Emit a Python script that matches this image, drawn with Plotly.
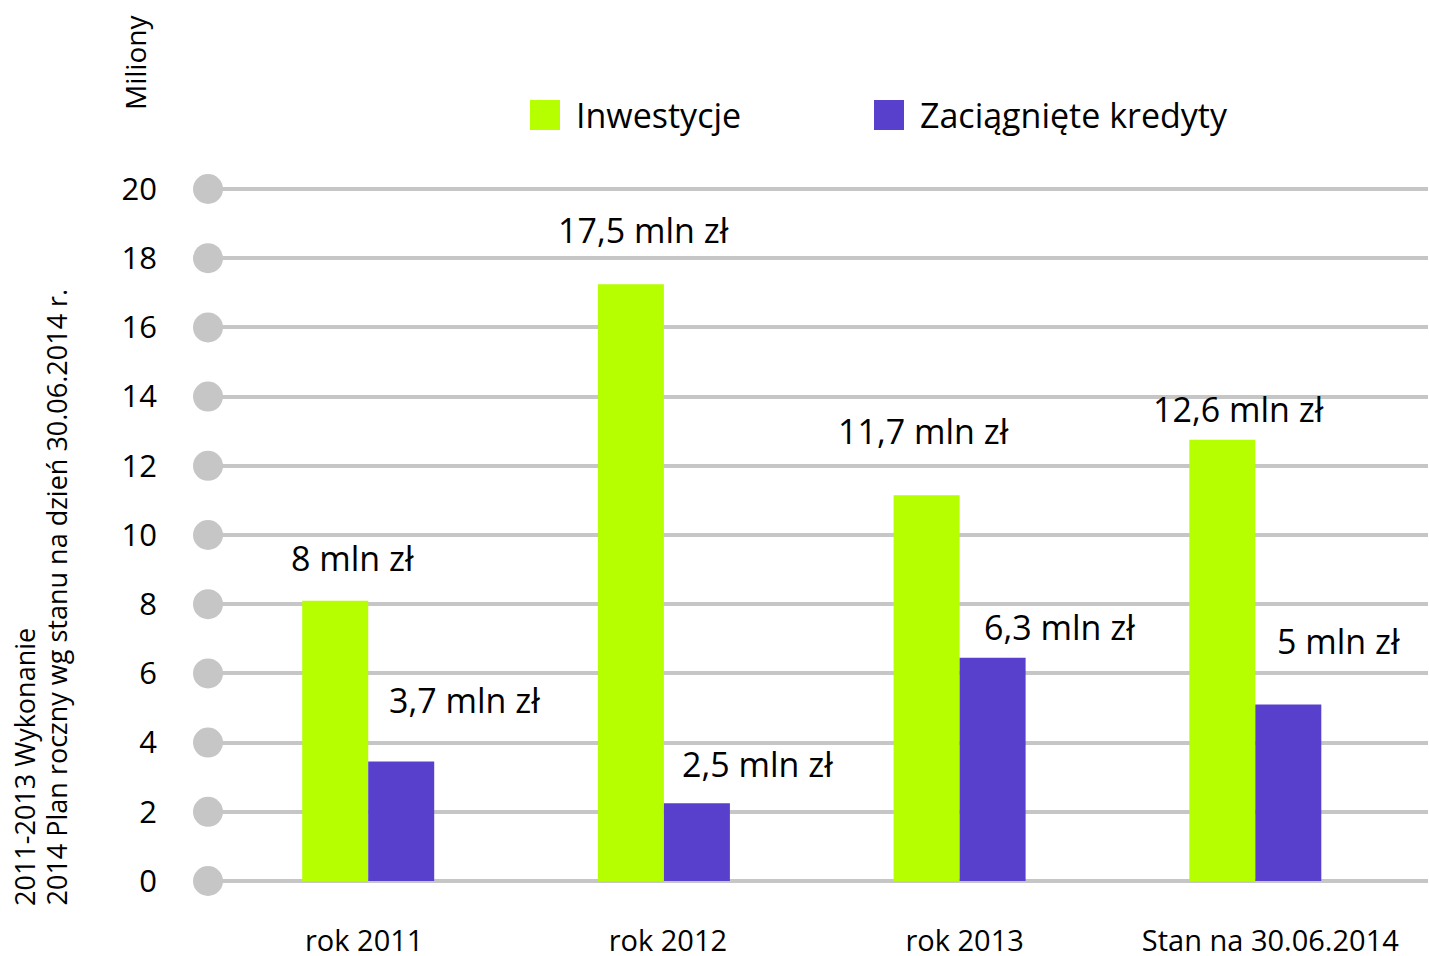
import plotly.graph_objects as go

# ---- data ----
categories = ["rok 2011", "rok 2012", "rok 2013", "Stan na 30.06.2014"]
series_names = ["Inwestycje", "Zaciągnięte kredyty"]
inwestycje = [8.1, 17.25, 11.15, 12.75]
kredyty = [3.45, 2.25, 6.45, 5.1]
labels_inwestycje = ["8 mln zł", "17,5 mln zł", "11,7 mln zł", "12,6 mln zł"]
labels_kredyty = ["3,7 mln zł", "2,5 mln zł", "6,3 mln zł", "5 mln zł"]
y_ticks = [0, 2, 4, 6, 8, 10, 12, 14, 16, 18, 20]

# ---- style ----
W, H = 1429, 956
L, R, T, B = 208, 1, 185, 71
Y_RANGE = [-0.116, 20.116]
GREEN = "#b5ff00"
PURPLE = "#5940cc"
GRID = "#c6c6c6"
FONT = "Open Sans"
X_RANGE = [-0.5418, 3.584]
BARGAP = 0.5536
half_bar = (1 - BARGAP) / 4  # offset of each bar centre from the group centre
PX_PER_CAT = (W - L - R) / (X_RANGE[1] - X_RANGE[0])
tick_label_shift_px = [-4, 4, 5, 15]  # small horizontal nudges of category labels

# per-label offsets (pixels) relative to the top of its bar
off_inw = [(17, 43), (13, 54), (-3, 64), (16, 31)]
off_kre = [(63, 62), (61, 39), (67, 31), (50, 64)]


def px_x(px):
    return (px - L) / (W - L - R)


def px_y(py):
    return (H - B - py) / (H - T - B)


idx = list(range(len(categories)))
fig = go.Figure()
fig.add_trace(go.Bar(x=idx, y=inwestycje, name=series_names[0], marker_color=GREEN,
                     marker_line_width=0, showlegend=False, hoverinfo="y"))
fig.add_trace(go.Bar(x=idx, y=kredyty, name=series_names[1], marker_color=PURPLE,
                     marker_line_width=0, showlegend=False, hoverinfo="y"))
# grey dots at the start of each gridline
fig.add_trace(go.Scatter(x=[X_RANGE[0]] * len(y_ticks), y=y_ticks, mode="markers",
                         marker=dict(size=30, color=GRID), cliponaxis=False,
                         showlegend=False, hoverinfo="skip"))

annotations = []
for i, (v, t, (dx, dy)) in enumerate(zip(inwestycje, labels_inwestycje, off_inw)):
    annotations.append(dict(x=i - half_bar, y=v, text=t, showarrow=False, xshift=dx, yshift=dy,
                            xanchor="center", yanchor="middle",
                            font=dict(family=FONT, size=34, color="#000")))
for i, (v, t, (dx, dy)) in enumerate(zip(kredyty, labels_kredyty, off_kre)):
    annotations.append(dict(x=i + half_bar, y=v, text=t, showarrow=False, xshift=dx, yshift=dy,
                            xanchor="center", yanchor="middle",
                            font=dict(family=FONT, size=34, color="#000")))

# axis titles
annotations.append(dict(xref="paper", yref="paper", x=px_x(135), y=px_y(63), text="Miliony",
                        textangle=-90, showarrow=False, xanchor="center", yanchor="middle",
                        font=dict(family=FONT, size=28, color="#000")))
annotations.append(dict(xref="paper", yref="paper", x=px_x(24), y=px_y(908),
                        text="2011-2013 Wykonanie", textangle=-90, showarrow=False,
                        xanchor="center", yanchor="bottom",
                        font=dict(family=FONT, size=27, color="#000")))
annotations.append(dict(xref="paper", yref="paper", x=px_x(56), y=px_y(908),
                        text="2014 Plan roczny wg stanu na dzień 30.06.2014 r.", textangle=-90,
                        showarrow=False, xanchor="center", yanchor="bottom",
                        font=dict(family=FONT, size=27, color="#000")))

# custom legend
shapes = []
legend_items = [(series_names[0], GREEN, 530, 574), (series_names[1], PURPLE, 874, 918)]
for name, col, sx, tx in legend_items:
    shapes.append(dict(type="rect", xref="paper", yref="paper", x0=px_x(sx), x1=px_x(sx + 30),
                       y0=px_y(130), y1=px_y(100), fillcolor=col, line_width=0))
    annotations.append(dict(xref="paper", yref="paper", x=px_x(tx), y=px_y(115), text=name,
                            showarrow=False, xanchor="left", yanchor="middle",
                            font=dict(family=FONT, size=34, color="#000")))

fig.update_layout(
    width=W, height=H,
    margin=dict(l=L, r=R, t=T, b=B, pad=0),
    paper_bgcolor="white", plot_bgcolor="white",
    barmode="group", bargap=BARGAP, bargroupgap=0,
    font=dict(family=FONT, color="#000"),
    annotations=annotations, shapes=shapes,
    showlegend=False,
)
tick_positions = [i + s / PX_PER_CAT for i, s in zip(idx, tick_label_shift_px)]
fig.update_xaxes(range=X_RANGE, tickmode="array", tickvals=tick_positions, ticktext=categories,
                 showgrid=False, zeroline=False, showline=False, ticks="", automargin=False,
                 tickfont=dict(family=FONT, size=29, color="#000"), ticklabelstandoff=36)
fig.update_yaxes(range=Y_RANGE, tickmode="array", tickvals=y_ticks, automargin=False,
                 showgrid=True, gridcolor=GRID, gridwidth=4, zeroline=False, showline=False,
                 ticks="", tickfont=dict(family=FONT, size=31, color="#000"),
                 ticklabelstandoff=50)

fig.write_html("out.html", config={"displayModeBar": False},
               post_script="document.body.style.margin='0';document.body.style.overflow='hidden';")
